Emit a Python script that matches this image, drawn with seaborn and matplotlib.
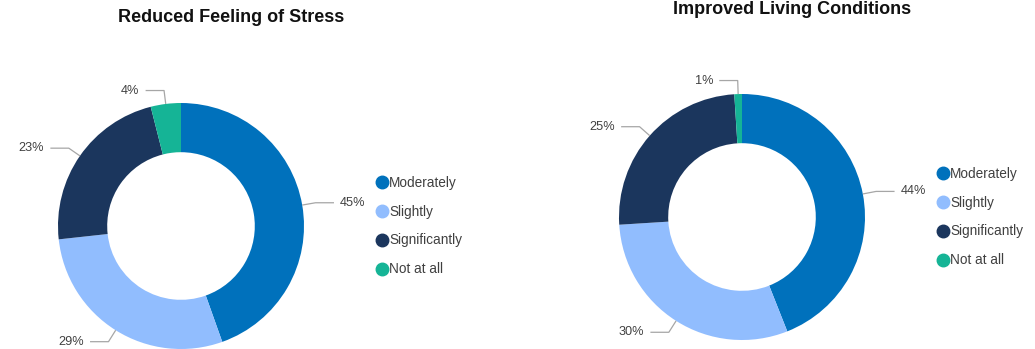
import numpy as np
import matplotlib
matplotlib.use("Agg")
import matplotlib.pyplot as plt
from matplotlib.lines import Line2D
import seaborn as sns

# Survey answers shared by both donuts
categories = ["Moderately", "Slightly", "Significantly", "Not at all"]
stress_values = [45, 29, 23, 4]
living_values = [44, 30, 25, 1]
titles = ["Reduced Feeling of Stress", "Improved Living Conditions"]

sns.set_theme(style="white")
plt.rcParams["font.family"] = ["Liberation Sans", "DejaVu Sans"]

palette = sns.color_palette(["#0071BC", "#91BDFE", "#1B365D", "#15B496"])
label_color = "#404040"
leader_color = "#A6A6A6"

W, H = 1035, 349
fig = plt.figure(figsize=(W / 100, H / 100), dpi=100)
fig.patch.set_facecolor("white")


def px_axes(cx, cy, r):
    """Square axes centred on pixel (cx, cy) with half-width r pixels."""
    return fig.add_axes([(cx - r) / W, (H - cy - r) / H, 2 * r / W, 2 * r / H])


panels = [
    dict(values=stress_values, title=titles[0], center=(181, 226), title_xy=(231, 18), legend_x=377),
    dict(values=living_values, title=titles[1], center=(742, 217), title_xy=(792, 9), legend_x=938),
]
R = 123

for p in panels:
    ax = px_axes(*p["center"], R)
    wedges, _ = ax.pie(
        p["values"], colors=palette, startangle=90, counterclock=False,
        radius=1, wedgeprops=dict(width=0.4, linewidth=0),
    )
    ax.set_xlim(-1, 1)
    ax.set_ylim(-1, 1)
    ax.set_aspect("equal")
    ax.axis("off")

    # elbow leader lines with percentage labels
    for w, v in zip(wedges, p["values"]):
        ang = np.deg2rad((w.theta1 + w.theta2) / 2)
        x0, y0 = np.cos(ang), np.sin(ang)
        x1, y1 = 1.11 * x0, 1.11 * y0
        side = 1 if x0 >= 0 else -1
        x2 = x1 + side * 0.15
        ax.plot([x0, x1, x2], [y0, y1, y1], color=leader_color, lw=0.9,
                clip_on=False, solid_capstyle="butt")
        ax.text(x2 + side * 0.05, y1, f"{v}%", ha="left" if side > 0 else "right",
                va="center", fontsize=9.2, color=label_color, clip_on=False)

    cx, cy = p["center"]
    handles = [Line2D([], [], marker="o", ls="", markersize=9, color=c) for c in palette]
    ax.legend(handles, categories, loc="center left",
              bbox_to_anchor=(p["legend_x"] / W, 1 - cy / H), bbox_transform=fig.transFigure,
              frameon=False, fontsize=9.8, handlelength=0.7, handletextpad=0.2,
              labelspacing=1.1, borderpad=0, borderaxespad=0, labelcolor=label_color)

    tx, ty = p["title_xy"]
    fig.text(tx / W, 1 - ty / H, p["title"], ha="center", va="center",
             fontsize=13, fontweight="bold", color="#111111")

fig.savefig("out.png", dpi=100, facecolor="white")
